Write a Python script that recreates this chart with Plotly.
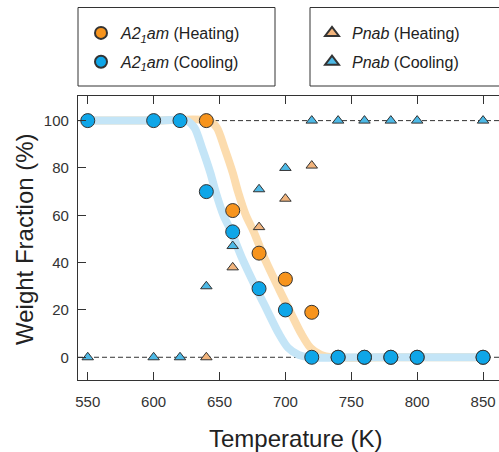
import plotly.graph_objects as go

# ---- data ----
temps_heat_a = [640, 660, 680, 700, 720, 740, 760, 780, 800, 850]
frac_heat_a = [100, 62, 44, 33, 19, 0, 0, 0, 0, 0]

temps_cool_a = [550, 600, 620, 640, 660, 680, 700, 720, 740, 760, 780, 800, 850]
frac_cool_a = [100, 100, 100, 70, 53, 29, 20, 0, 0, 0, 0, 0, 0]

temps_heat_p = [640, 660, 680, 700, 720]
frac_heat_p = [0, 38, 55, 67, 81]

temps_cool_p = [550, 600, 620, 640, 660, 680, 700, 720, 740, 760, 780, 800, 850]
frac_cool_p = [0, 0, 0, 30, 47, 71, 80, 100, 100, 100, 100, 100, 100]

# guide-to-the-eye bands
band_cool_x = [550, 600, 625, 631, 637, 643, 647, 653, 659, 667, 678, 686, 695, 702, 710, 718, 760, 850]
band_cool_y = [100, 100, 100, 97, 88, 78, 70, 60, 53, 42, 29, 20, 10, 4, 1, 0, 0, 0]
band_heat_x = [550, 600, 642, 648, 654, 660, 664, 670, 676, 684, 695, 703, 712, 719, 727, 735, 780, 850]
band_heat_y = [100, 100, 100, 97, 88, 78, 70, 60, 53, 42, 29, 20, 10, 4, 1, 0, 0, 0]

ref_levels = [0, 100]
x_ticks = [550, 600, 650, 700, 750, 800, 850]
y_ticks = [0, 20, 40, 60, 80, 100]
x_range = [542.6, 862.1]
y_range = [-9.6, 110.4]

FONT = "Liberation Sans, Arial, sans-serif"
ORANGE = "#f7941d"
BLUE = "#0fa6e8"
TAN = "#f2b47c"
LBLUE = "#4db9e6"
EDGE = "#333333"

fig = go.Figure()

fig.add_trace(go.Scatter(x=band_heat_x, y=band_heat_y, mode="lines",
                         line=dict(color="#fcdcae", width=8, shape="spline", smoothing=0.8),
                         showlegend=False, hoverinfo="skip"))
fig.add_trace(go.Scatter(x=band_cool_x, y=band_cool_y, mode="lines",
                         line=dict(color="#c4e5f7", width=8, shape="spline", smoothing=0.8),
                         showlegend=False, hoverinfo="skip"))

fig.add_trace(go.Scatter(x=temps_heat_p, y=frac_heat_p, mode="markers",
                         name="<i>Pnab</i> (Heating)",
                         marker=dict(symbol="triangle-up", size=10, color=TAN,
                                     line=dict(color=EDGE, width=1)),
                         legend="legend2", legendgroup="p1"))
fig.add_trace(go.Scatter(x=temps_cool_p, y=frac_cool_p, mode="markers",
                         name="<i>Pnab</i> (Cooling)",
                         marker=dict(symbol="triangle-up", size=10, color=LBLUE,
                                     line=dict(color=EDGE, width=1)),
                         legend="legend2", legendgroup="p2"))
fig.add_trace(go.Scatter(x=temps_heat_a, y=frac_heat_a, mode="markers",
                         name="<i>A2<sub>1</sub>am</i> (Heating)",
                         marker=dict(symbol="circle", size=14, color=ORANGE,
                                     line=dict(color=EDGE, width=1)),
                         legend="legend", legendgroup="a1"))
fig.add_trace(go.Scatter(x=temps_cool_a, y=frac_cool_a, mode="markers",
                         name="<i>A2<sub>1</sub>am</i> (Cooling)",
                         marker=dict(symbol="circle", size=14, color=BLUE,
                                     line=dict(color=EDGE, width=1)),
                         legend="legend", legendgroup="a2"))

L, R, T, B = 78, 0, 96, 72
W, H = 499, 452
pw, ph = W - L - R, H - T - B

def px_x(p):
    return (p - L) / pw

def px_y(p):
    return (H - B - p) / ph

shapes = []
for lv in ref_levels:
    shapes.append(dict(type="line", xref="paper", x0=0, x1=1, yref="y", y0=lv, y1=lv,
                       line=dict(color="#333333", width=1, dash="5px,3px"), layer="below"))
# legend frames
for (bx0, bx1) in [(78, 275), (310, 515)]:
    shapes.append(dict(type="rect", xref="paper", yref="paper",
                       x0=px_x(bx0), x1=px_x(bx1), y0=px_y(86), y1=px_y(7.5),
                       line=dict(color="#333333", width=1), fillcolor="rgba(0,0,0,0)"))

legend_common = dict(borderwidth=0, bgcolor="rgba(255,255,255,0)",
                     font=dict(family=FONT, size=16, color="#222"),
                     xanchor="left", yanchor="top", tracegroupgap=5,
                     traceorder="grouped", itemsizing="constant")

fig.update_layout(
    width=W, height=H,
    margin=dict(l=L, r=R, t=T, b=B, autoexpand=False),
    plot_bgcolor="white", paper_bgcolor="white",
    font=dict(family=FONT, color="#222"),
    shapes=shapes,
    legend=dict(x=px_x(81), y=px_y(16), **legend_common),
    legend2=dict(x=px_x(312), y=px_y(16), **legend_common),
    xaxis=dict(range=x_range, tickvals=x_ticks, ticks="inside", ticklen=8, tickcolor="#333",
               showline=True, linecolor="#333", linewidth=1.2, mirror="ticks",
               showgrid=False, zeroline=False,
               tickfont=dict(family=FONT, size=15, color="#333"), ticklabelstandoff=8),
    xaxis2=dict(range=x_range, tickvals=x_ticks, ticks="outside", ticklen=5, tickcolor="#333",
                overlaying="x", side="bottom", anchor="y", showticklabels=False,
                showline=False, showgrid=False, zeroline=False),
    yaxis=dict(range=y_range, tickvals=y_ticks, ticks="inside", ticklen=8, tickcolor="#333",
               showline=True, linecolor="#333", linewidth=1.2,
               showgrid=False, zeroline=False,
               tickfont=dict(family=FONT, size=15, color="#333"), ticklabelstandoff=5),
    yaxis2=dict(range=y_range, tickvals=y_ticks, ticks="inside", ticklen=3, tickcolor="#333",
                overlaying="y", side="right", anchor="x", showticklabels=False,
                showline=False, showgrid=False, zeroline=False),
    annotations=[
        dict(text="Temperature (K)", xref="paper", yref="paper", x=px_x(295), y=px_y(438),
             showarrow=False, font=dict(family=FONT, size=24, color="#222"),
             xanchor="center", yanchor="middle"),
        dict(text="Weight Fraction (%)", xref="paper", yref="paper", x=px_x(24), y=px_y(239),
             showarrow=False, textangle=-90, font=dict(family=FONT, size=24, color="#222"),
             xanchor="center", yanchor="middle"),
    ],
)

fig.write_html("out.html")
